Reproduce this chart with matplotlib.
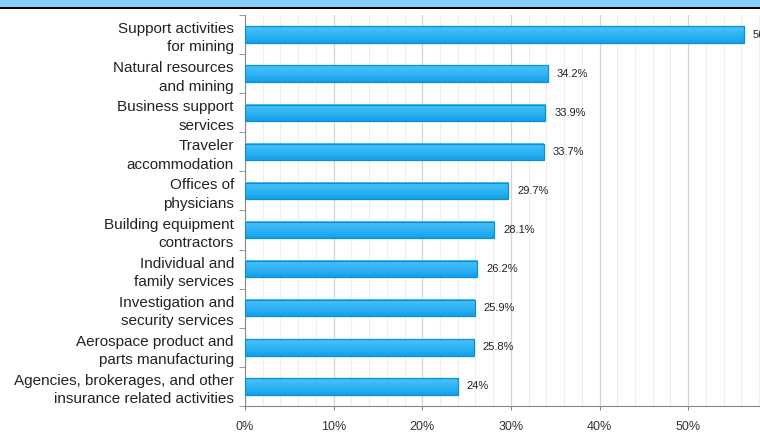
import matplotlib.pyplot as plt
import numpy as np
from matplotlib.ticker import MultipleLocator, FuncFormatter
from matplotlib.patches import Rectangle
from matplotlib.colors import LinearSegmentedColormap

plt.rcParams['font.family'] = ['Liberation Sans', 'DejaVu Sans']

# industries, top to bottom
labels = ['Support activities\nfor mining',
          'Natural resources\nand mining',
          'Business support\nservices',
          'Traveler\naccommodation',
          'Offices of\nphysicians',
          'Building equipment\ncontractors',
          'Individual and\nfamily services',
          'Investigation and\nsecurity services',
          'Aerospace product and\nparts manufacturing',
          'Agencies, brokerages, and other\ninsurance related activities']
values = [56.3, 34.2, 33.9, 33.7, 29.7, 28.1, 26.2, 25.9, 25.8, 24.0]
value_text = ['56.3%', '34.2%', '33.9%', '33.7%', '29.7%', '28.1%', '26.2%', '25.9%', '25.8%', '24%']

fig = plt.figure(figsize=(7.6, 4.34), dpi=100)
ax = fig.add_axes([245/760, 1-406/434, 1-245/760, 391/434])

y = np.arange(len(values))
h = 0.42
bars = ax.barh(y, values, height=h, color='none', edgecolor='#0d8fd6', linewidth=0.9, zorder=4)

# vertical gradient inside bars: light on top, deeper blue below
cmap = LinearSegmentedColormap.from_list('barblue', ['#4cc2f8', '#30b4f4', '#14a2ea'])
grad = np.linspace(0, 1, 50).reshape(-1, 1)
for b in bars:
    x0, y0, w, hh = b.get_x(), b.get_y(), b.get_width(), b.get_height()
    # inverted y axis: top of bar on screen is y0
    ax.imshow(grad, cmap=cmap, aspect='auto', extent=(x0, x0 + w, y0 + hh, y0),
              origin='upper', zorder=3, interpolation='bilinear')

for yi, v, t in zip(y, values, value_text):
    ax.text(v + 1.0, yi, t, va='center', ha='left', fontsize=8, color='#222222', clip_on=False)

ax.set_ylim(len(values) - 0.5, -0.5)
ax.set_xlim(0, 58.1)

ax.xaxis.set_major_locator(MultipleLocator(10))
ax.xaxis.set_minor_locator(MultipleLocator(2))
ax.xaxis.set_major_formatter(FuncFormatter(lambda x, pos: '%d%%' % x))
ax.grid(which='major', axis='x', color='#d4d4d4', linewidth=0.9, zorder=0)
ax.grid(which='minor', axis='x', color='#eeeeee', linewidth=0.8, zorder=0)

ax.set_yticks(y)
ax.set_yticklabels(labels, fontsize=11, linespacing=1.4, color='#222222')
ax.tick_params(axis='y', which='major', length=0, pad=8)
ax.set_yticks(np.arange(-0.5, len(values), 1), minor=True)
ax.tick_params(axis='y', which='minor', length=4, color='#888888', direction='out')
ax.tick_params(axis='x', which='major', length=3, color='#888888', labelsize=9, labelcolor='#333333', pad=8)
ax.tick_params(axis='x', which='minor', length=0)

for s in ['top', 'right']:
    ax.spines[s].set_visible(False)
ax.spines['left'].set_color('#888888')
ax.spines['bottom'].set_color('#888888')

# banner strip at top
fig.patches.append(Rectangle((0, 1-7/434), 1, 7/434, transform=fig.transFigure, facecolor='#87cefa', edgecolor='none'))
fig.patches.append(Rectangle((0, 1-9/434), 1, 2.5/434, transform=fig.transFigure, facecolor='black', edgecolor='none'))

fig.savefig('out.png', dpi=100)
